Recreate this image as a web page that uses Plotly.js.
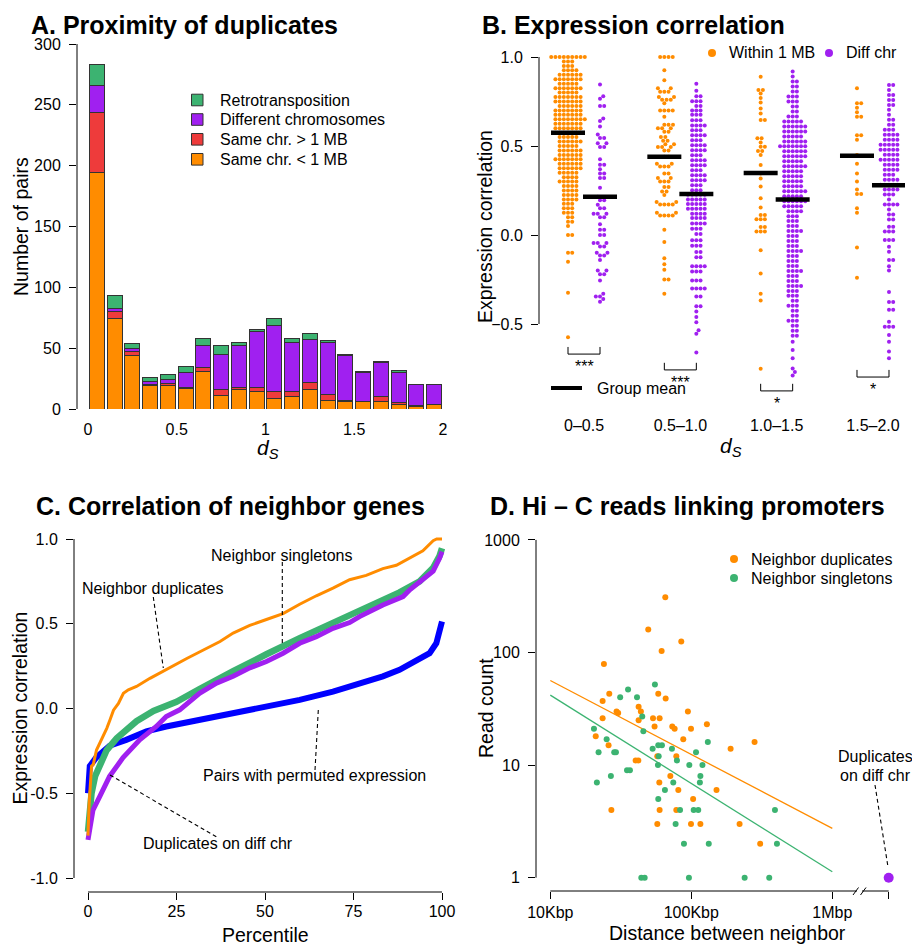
<!DOCTYPE html>
<html><head><meta charset="utf-8">
<script src="https://cdn.plot.ly/plotly-3.0.1.min.js"></script>
<style>html,body{margin:0;padding:0;background:#fff}#chart{width:912px;height:945px}</style>
</head><body><div id="chart"></div>
<script>
// ================= DATA =================
// Panel A: stacked histogram of d_S (bin centres, 0.1 wide)
const dsBins = [0.05,0.15,0.25,0.35,0.45,0.55,0.65,0.75,0.85,0.95,1.05,1.15,1.25,1.35,1.45,1.55,1.65,1.75,1.85,1.95];
const sameChrNear = [194,74,44,19,19,17,31,11,16,14,9,10,16,7,6,6,6,4,2,4];
const sameChrFar  = [50,6,3,1,2,1,3,5,2,4,5,4,6,5,1,0,4,1,1,0];
const diffChrom   = [22,3,3,3,3,12,18,29,34,46,55,41,35,43,37,24,28,25,17,16];
const retroTrans  = [17,10,4,3,4,5,6,7,3,1,5,3,5,1,1,1,1,2,0,0];
const seriesNamesA = ['Retrotransposition','Different chromosomes','Same chr. &gt; 1 MB','Same chr. &lt; 1 MB'];
const xTicksA = [0,0.5,1,1.5,2];
const xTickTextA = ['0','0.5','1','1.5','2'];
const yTicksA = [0,50,100,150,200,250,300];

// Panel B: expression correlation, [value, number of pairs at that value]
const dsGroups = ['0\u20130.5','0.5\u20131.0','1.0\u20131.5','1.5\u20132.0'];
const within_0_05 = [[1.0,9],[0.975,3],[0.95,3],[0.925,4],[0.9,6],[0.875,7],[0.85,5],[0.825,7],[0.8,5],[0.775,7],[0.75,7],[0.725,6],[0.7,7],[0.675,7],[0.65,8],[0.625,7],[0.6,7],[0.575,6],[0.55,5],[0.525,6],[0.5,5],[0.475,6],[0.45,6],[0.425,7],[0.4,6],[0.375,6],[0.35,5],[0.325,4],[0.3,5],[0.275,4],[0.25,4],[0.225,4],[0.2,4],[0.175,3],[0.15,3],[0.125,3],[0.1,2],[0.075,2],[0.05,1],[0.0,2],[-0.1,2],[-0.15,1],[-0.325,1],[-0.575,1]];
const diff_0_05 = [[0.845,1],[0.78,1],[0.765,1],[0.725,2],[0.655,1],[0.64,1],[0.61,1],[0.565,1],[0.545,2],[0.515,2],[0.495,2],[0.425,1],[0.395,2],[0.37,1],[0.345,2],[0.32,2],[0.265,1],[0.215,1],[0.195,2],[0.17,1],[0.15,2],[0.12,3],[0.1,2],[0.06,1],[0.03,2],[0.0,2],[-0.045,3],[-0.065,2],[-0.1,2],[-0.115,2],[-0.14,1],[-0.2,2],[-0.22,2],[-0.255,1],[-0.33,1],[-0.345,2],[-0.36,1],[-0.375,1]];
const within_05_10 = [[1.0,4],[0.925,1],[0.87,1],[0.825,2],[0.805,3],[0.775,2],[0.76,3],[0.74,1],[0.7,4],[0.665,1],[0.62,3],[0.6,3],[0.58,2],[0.55,2],[0.53,2],[0.51,2],[0.495,3],[0.475,2],[0.44,2],[0.4,2],[0.385,3],[0.345,2],[0.32,2],[0.3,3],[0.27,2],[0.245,2],[0.225,1],[0.185,2],[0.172,4],[0.125,2],[0.11,4],[0.03,1],[-0.04,1],[-0.13,1],[-0.165,1],[-0.195,1],[-0.25,2],[-0.33,1]];
const diff_05_10 = [[0.85,1],[0.81,1],[0.78,2],[0.752,3],[0.725,2],[0.7,3],[0.675,3],[0.645,3],[0.615,4],[0.588,3],[0.56,4],[0.532,3],[0.504,4],[0.476,4],[0.448,3],[0.42,4],[0.392,4],[0.364,3],[0.336,4],[0.308,4],[0.28,3],[0.252,3],[0.226,5],[0.2,5],[0.174,5],[0.148,5],[0.12,4],[0.095,4],[0.065,4],[0.035,3],[0.005,2],[-0.03,3],[-0.06,3],[-0.095,2],[-0.125,2],[-0.175,4],[-0.205,3],[-0.255,3],[-0.3,4],[-0.345,2],[-0.4,2],[-0.43,1],[-0.46,1],[-0.49,1],[-0.535,1],[-0.555,1],[-0.66,1]];
const within_10_15 = [[0.889,1],[0.815,2],[0.795,1],[0.77,1],[0.745,1],[0.711,1],[0.683,1],[0.646,2],[0.543,2],[0.52,1],[0.496,2],[0.472,2],[0.45,1],[0.393,1],[0.346,1],[0.318,1],[0.272,1],[0.206,1],[0.155,1],[0.112,2],[0.088,3],[0.045,2],[0.02,3],[-0.086,1],[-0.217,1],[-0.33,1],[-0.368,1],[-0.752,1]];
const diff_10_15 = [[0.918,1],[0.89,1],[0.862,2],[0.834,2],[0.806,2],[0.778,3],[0.75,3],[0.722,2],[0.694,2],[0.666,3],[0.638,5],[0.61,6],[0.582,6],[0.554,5],[0.526,6],[0.498,7],[0.47,6],[0.442,6],[0.414,5],[0.386,6],[0.358,5],[0.33,5],[0.302,5],[0.274,5],[0.246,6],[0.218,5],[0.19,6],[0.162,5],[0.134,4],[0.106,3],[0.078,3],[0.05,3],[0.022,4],[-0.006,3],[-0.034,3],[-0.062,3],[-0.09,4],[-0.118,3],[-0.146,3],[-0.174,3],[-0.202,4],[-0.23,3],[-0.258,3],[-0.286,4],[-0.314,3],[-0.342,3],[-0.37,2],[-0.398,3],[-0.426,2],[-0.454,2],[-0.482,3],[-0.51,2],[-0.538,2],[-0.566,2],[-0.6,1],[-0.646,1],[-0.693,1],[-0.75,1],[-0.77,1],[-0.79,1]];
const within_15_20 = [[0.825,1],[0.74,2],[0.715,1],[0.69,1],[0.665,2],[0.56,2],[0.535,1],[0.45,1],[0.4,1],[0.345,1],[0.3,1],[0.255,1],[0.23,2],[0.15,1],[0.125,1],[-0.07,1],[-0.24,1]];
const diff_15_20 = [[0.843,2],[0.815,1],[0.787,2],[0.759,2],[0.731,2],[0.703,1],[0.675,1],[0.647,2],[0.619,2],[0.591,3],[0.563,4],[0.535,4],[0.507,5],[0.479,5],[0.451,4],[0.423,5],[0.395,4],[0.367,4],[0.339,3],[0.311,4],[0.283,5],[0.255,4],[0.227,3],[0.199,1],[0.171,4],[0.143,1],[0.115,2],[0.087,2],[0.047,2],[0.019,3],[-0.028,3],[-0.066,1],[-0.094,1],[-0.141,2],[-0.175,1],[-0.2,1],[-0.32,1],[-0.376,2],[-0.42,2],[-0.487,1],[-0.515,3],[-0.562,1],[-0.6,1],[-0.655,1],[-0.693,1]];
const withinMeans = [0.575,0.44,0.348,0.445];
const diffMeans   = [0.215,0.23,0.20,0.28];
const sigStars    = ['***','***','*','*'];
const yTicksB = [-0.5,0,0.5,1];
const yTickTextB = ['\u22120.5','0.0','0.5','1.0'];

// Panel C: sorted correlation curves (percentile, correlation)
const pctDup = [0,0.3,1.0,1.5,2.4,3.4,4.3,5.3,6.2,7.2,8.6,10,11.4,13.7,17.5,20.3,23.2,27.9,32.6,37.3,41,45.7,50.4,55.1,59.8,64.5,69.2,73.9,78.6,83.3,87.1,90.9,94.6,97.5,98.5,100];
const corDup = [-0.75,-0.57,-0.34,-0.33,-0.245,-0.2,-0.17,-0.117,-0.068,-0.01,0.03,0.09,0.11,0.13,0.178,0.21,0.245,0.295,0.345,0.395,0.445,0.49,0.525,0.56,0.615,0.665,0.71,0.76,0.785,0.825,0.845,0.89,0.93,0.99,1.0,1.0];
const pctSing = [0,0.4,1.0,2.0,3.4,5.3,8.1,10.9,13.7,18.5,25,31.5,36.3,41,50.4,55.1,59.8,69.2,78.6,88,93.7,97.5,99.3,100];
const corSing = [-0.727,-0.62,-0.5,-0.4,-0.324,-0.245,-0.176,-0.122,-0.075,-0.015,0.04,0.115,0.17,0.22,0.32,0.37,0.415,0.505,0.59,0.685,0.75,0.83,0.9,0.945];
const pctDiffChr = [0,0.5,1.4,3.3,6.1,9.9,14.6,19.3,22.1,25.9,31.5,36.3,41,45.7,50.4,55.1,59.8,64.5,69.2,73.9,76.7,83.3,89,90.9,94.6,97.5,99.3,100];
const corDiffChr = [-0.775,-0.695,-0.6,-0.52,-0.4,-0.29,-0.185,-0.106,-0.047,-0.008,0.09,0.15,0.19,0.24,0.277,0.326,0.385,0.424,0.473,0.507,0.542,0.611,0.66,0.7,0.76,0.81,0.886,0.925];
const pctPerm = [0,0.1,0.5,2.3,6.1,10.8,16.5,22.1,31.5,41,50.4,59.8,69.2,78.6,83.3,88,92.7,96.5,98.4,99.3,100];
const corPerm = [-0.5,-0.4,-0.34,-0.29,-0.22,-0.185,-0.135,-0.106,-0.067,-0.028,0.012,0.051,0.1,0.159,0.19,0.228,0.277,0.326,0.385,0.464,0.513];
const xTicksC = [0,25,50,75,100];
const yTicksC = [-1,-0.5,0,0.5,1];
const yTickTextC = ['-1.0','-0.5','0.0','0.5','1.0'];

// Panel D: Hi-C read counts vs distance (bp)
const dupDist  = [65400,49500,84900,61600,24000,26200,23500,58300,65800,42300,43900,29500,30300,94600,23500,53500,59600,42300,54900,73300,76200,99500,129000,21000,87700,25900,281000,190000,57400,78300,40300,42100,71000,59300,80900,151000,103000,27100,59600,78300,57400,99500,116000,220000,308000];
const dupReads = [310,160,125,103,79,43,37,43,39,33,30,30,29,30,26,26,26,25,22,22,21,21,23,18,17,15,16,14,12,12,11,11,8,7,6,6,5,4,4,4,3,3,3,3,2];
const singDist  = [55200,35600,31300,41200,44900,45700,20400,25100,22000,28400,29200,53200,58300,61900,72900,108000,131000,58700,79100,58000,96800,120000,35000,36700,26900,116000,21400,74500,115000,65000,58300,83200,104000,112000,392000,77400,88700,133000,405000,44200,46700,96200,239000,357000];
const singReads = [52,47,40,40,27,20,21,17,13,13,13,14,15,15,14,13,16,12,11,10,10,10,9,9,8,8,7,7,7,6,5,4,4,4,4,3,2,2,2,1,1,1,1,1];
const fitDist = [1e4, 1e6];
const dupFit  = [56.4, 2.74];
const singFit = [41.8, 1.13];
const diffChrReads = [1];
const xTicksD = [1e4,1e5,1e6];
const xTickTextD = ['10Kbp','100Kbp','1Mbp'];
const yTicksD = [1,10,100,1000];

// ================= STYLE / LAYOUT =================
const FONT = 'Liberation Sans, Arial, Helvetica, sans-serif';
const W = 912, H = 945;
const px = x => x / W, py = y => 1 - y / H;
const ORANGE = '#FF8C00', RED = '#EE3B3B', PURPLE = '#A020F0', GREEN = '#3CB371', BLUE = '#0000FF';

const data = [];
// ---- A: stacked bars
[[sameChrNear, ORANGE],[sameChrFar, RED],[diffChrom, PURPLE],[retroTrans, GREEN]].forEach(([vals,col]) => {
  data.push({type:'bar', x:dsBins, y:vals, width:0.084, xaxis:'x', yaxis:'y',
    marker:{color:col, line:{color:'#333', width:1}}, hoverinfo:'skip'});
});

// ---- B: beeswarm
const B_PX_X = 96.33, B_PX_Y = 178, DOT = 4.2;
function swarm(rows) {
  const vals = [];
  rows.forEach(([v,n]) => { for (let i=0;i<n;i++) vals.push(v); });
  const order = vals.map((v,i)=>i).sort((a,b)=>vals[a]-vals[b]);
  const placed = [], offs = new Array(vals.length);
  for (const i of order) {
    const y = vals[i]*B_PX_Y;
    const near = placed.filter(p => Math.abs(p.y-y) < DOT);
    const cands = [0];
    near.forEach(p => { const dx = Math.sqrt(DOT*DOT-(p.y-y)*(p.y-y)); cands.push(p.x+dx, p.x-dx); });
    cands.sort((a,b)=>Math.abs(a)-Math.abs(b));
    let chosen = 0;
    for (const c of cands) {
      if (near.every(p => (p.x-c)*(p.x-c)+(p.y-y)*(p.y-y) >= DOT*DOT-1e-6)) { chosen = c; break; }
    }
    placed.push({x:chosen, y}); offs[i] = chosen;
  }
  return {vals, offs};
}
const withinGroups = [within_0_05, within_05_10, within_10_15, within_15_20];
const diffGroups = [diff_0_05, diff_05_10, diff_10_15, diff_15_20];
const SIDE = 16/B_PX_X;
function swarmTrace(groups, sign, col) {
  const xs=[], ys=[];
  groups.forEach((rows,g) => {
    const s = swarm(rows);
    s.vals.forEach((v,i) => { xs.push(g+1+sign*SIDE + s.offs[i]/B_PX_X); ys.push(v); });
  });
  return {type:'scatter', mode:'markers', x:xs, y:ys, xaxis:'x2', yaxis:'y2',
    marker:{size:4, color:col, line:{width:0}}, hoverinfo:'skip', cliponaxis:false};
}
data.push(swarmTrace(withinGroups, -1, ORANGE));
data.push(swarmTrace(diffGroups, 1, PURPLE));
// group mean bars
const HALF = 17/B_PX_X;
const mx=[], my=[];
withinMeans.forEach((m,g)=>{ mx.push(g+1-SIDE-HALF, g+1-SIDE+HALF, null); my.push(m,m,null); });
diffMeans.forEach((m,g)=>{ mx.push(g+1+SIDE-HALF, g+1+SIDE+HALF, null); my.push(m,m,null); });
data.push({type:'scatter', mode:'lines', x:mx, y:my, xaxis:'x2', yaxis:'y2', line:{color:'#000', width:4.5}, hoverinfo:'skip'});

// ---- C: curves
data.push({type:'scatter', mode:'lines', x:pctPerm, y:corPerm, xaxis:'x3', yaxis:'y3', line:{color:BLUE, width:6}, hoverinfo:'skip'});
data.push({type:'scatter', mode:'lines', x:pctSing, y:corSing, xaxis:'x3', yaxis:'y3', line:{color:GREEN, width:6.5}, hoverinfo:'skip'});
data.push({type:'scatter', mode:'lines', x:pctDiffChr, y:corDiffChr, xaxis:'x3', yaxis:'y3', line:{color:PURPLE, width:5}, hoverinfo:'skip'});
data.push({type:'scatter', mode:'lines', x:pctDup, y:corDup, xaxis:'x3', yaxis:'y3', line:{color:ORANGE, width:3}, hoverinfo:'skip'});

// ---- D: scatter
const D_XR = [3.8986, 6.5156];
const diffChrPos = Math.pow(10, 6.40); // position beyond the axis break
data.push({type:'scatter', mode:'lines', x:fitDist, y:dupFit, xaxis:'x4', yaxis:'y4', line:{color:ORANGE, width:1.3}, hoverinfo:'skip'});
data.push({type:'scatter', mode:'lines', x:fitDist, y:singFit, xaxis:'x4', yaxis:'y4', line:{color:GREEN, width:1.3}, hoverinfo:'skip'});
data.push({type:'scatter', mode:'markers', x:dupDist, y:dupReads, xaxis:'x4', yaxis:'y4', marker:{size:6, color:ORANGE}, hoverinfo:'skip', cliponaxis:false});
data.push({type:'scatter', mode:'markers', x:singDist, y:singReads, xaxis:'x4', yaxis:'y4', marker:{size:6, color:GREEN}, hoverinfo:'skip', cliponaxis:false});
data.push({type:'scatter', mode:'markers', x:[diffChrPos], y:diffChrReads, xaxis:'x4', yaxis:'y4', marker:{size:10, color:PURPLE}, hoverinfo:'skip', cliponaxis:false});

// ---- axes
const tf = {family:FONT, size:16, color:'#000'};
const base = {showgrid:false, zeroline:false, showline:false, tickfont:tf, tickcolor:'#000', tickwidth:1, fixedrange:true};
const layout = {
  width:W, height:H, margin:{l:0,r:0,t:0,b:0}, paper_bgcolor:'#fff', plot_bgcolor:'rgba(0,0,0,0)',
  showlegend:false, barmode:'stack', font:{family:FONT, color:'#000'},
  xaxis: Object.assign({}, base, {domain:[px(77),px(455)], range:[-0.062,2.068], tickmode:'array', tickvals:xTicksA, ticktext:xTickTextA, ticks:'', ticklabelstandoff:9, anchor:'y'}),
  yaxis: Object.assign({}, base, {domain:[py(409),py(44)], range:[0,300], tickmode:'array', tickvals:yTicksA, ticks:'outside', ticklen:7, ticklabelstandoff:5, anchor:'x'}),
  xaxis2: Object.assign({}, base, {domain:[px(539),px(905)], range:[0.5327,4.3323], tickmode:'array', tickvals:[1,2,3,4], ticktext:dsGroups, ticks:'', ticklabelstandoff:14, anchor:'y2'}),
  yaxis2: Object.assign({}, base, {domain:[py(400),py(48)], range:[-0.927,1.0506], tickmode:'array', tickvals:yTicksB, ticktext:yTickTextB, ticks:'outside', ticklen:7, ticklabelstandoff:5, anchor:'x2'}),
  xaxis3: Object.assign({}, base, {domain:[px(74),px(450)], range:[-3.955,102.26], tickmode:'array', tickvals:xTicksC, ticks:'outside', ticklen:7, ticklabelstandoff:-2, anchor:'y3'}),
  yaxis3: Object.assign({}, base, {domain:[py(892),py(530)], range:[-1.0826,1.0531], tickmode:'array', tickvals:yTicksC, ticktext:yTickTextC, ticks:'outside', ticklen:7, ticklabelstandoff:5, anchor:'x3'}),
  xaxis4: Object.assign({}, base, {type:'log', domain:[px(536),px(905)], range:D_XR, tickmode:'array', tickvals:xTicksD.concat([diffChrPos]), ticktext:xTickTextD.concat([' ']), ticks:'outside', ticklen:7, ticklabelstandoff:0, anchor:'y4'}),
  yaxis4: Object.assign({}, base, {type:'log', domain:[py(891),py(530)], range:[-0.1181,3.0879], tickmode:'array', tickvals:yTicksD, ticktext:yTicksD.map(String), ticks:'outside', ticklen:7, ticklabelstandoff:5, anchor:'x4'}),
  shapes:[], annotations:[]
};

const S = layout.shapes, A = layout.annotations;
const pline = (x0,y0,x1,y1,extra) => S.push(Object.assign({type:'line', xref:'paper', yref:'paper', x0:px(x0), y0:py(y0), x1:px(x1), y1:py(y1), line:{color:'#000', width:1}}, extra||{}));
const txt = (t,x,y,o) => A.push(Object.assign({text:t, x:px(x), y:py(y), xref:'paper', yref:'paper', showarrow:false, xanchor:'center', yanchor:'middle', font:{family:FONT, size:16, color:'#000'}}, o||{}));

// axis lines (R style, spanning the tick range)
pline(77,409,77,44);
S.push({type:'line', xref:'paper', yref:'y2', x0:px(539), x1:px(539), y0:-0.5, y1:1.0, line:{color:'#000', width:1}});
S.push({type:'line', xref:'paper', yref:'y3', x0:px(74), x1:px(74), y0:-1, y1:1, line:{color:'#000', width:1}});
S.push({type:'line', xref:'x3', yref:'paper', x0:0, x1:100, y0:py(892), y1:py(892), line:{color:'#000', width:1}});
// panel D axis lines
const dxPix = lg => 536 + (lg - D_XR[0])/(D_XR[1]-D_XR[0])*369;
pline(536, 891 - (0 + 0.1181)/3.206*361, 536, 891 - (3 + 0.1181)/3.206*361);
pline(dxPix(4), 891, 857, 891);
pline(862, 891, dxPix(6.40), 891);
pline(853, 895, 858.5, 887.5);
pline(860.5, 895, 866, 887.5);

// panel B brackets
const bracketY = [-0.669,-0.758,-0.876,-0.798];
bracketY.forEach((b,g) => {
  const x0 = g+1-SIDE, x1 = g+1+SIDE, t = 0.04;
  S.push({type:'path', xref:'x2', yref:'y2', path:`M ${x0},${b+t} L ${x0},${b} L ${x1},${b} L ${x1},${b+t}`, line:{color:'#000', width:1}});
  A.push({text:sigStars[g], x:g+1, y:b, xref:'x2', yref:'y2', showarrow:false, xanchor:'center', yanchor:'top', yshift:-2, font:{family:FONT, size:16, color:'#000'}});
});

// titles
const tOpt = {xanchor:'left', font:{family:FONT, size:25, color:'#000'}};
txt('<b>A. Proximity of duplicates</b>', 29, 25, tOpt);
txt('<b>B. Expression correlation</b>', 480, 25, tOpt);
txt('<b>C. Correlation of neighbor genes</b>', 34, 506, tOpt);
txt('<b>D. Hi \u2013 C reads linking promoters</b>', 488, 506, tOpt);
// axis titles
const aOpt = {font:{family:FONT, size:19.5, color:'#000'}};
const rOpt = {textangle:-90, font:{family:FONT, size:19.5, color:'#000'}};
txt('Number of pairs', 21, 227, rOpt);
txt('<i>d</i><sub><i>S</i></sub>', 268, 449, {font:{family:FONT, size:21, color:'#000'}});
txt('Expression correlation', 485, 227, rOpt);
txt('<i>d</i><sub><i>S</i></sub>', 731, 447, {font:{family:FONT, size:21, color:'#000'}});
txt('Expression correlation', 19.5, 708, rOpt);
txt('Percentile', 265.5, 935, aOpt);
txt('Read count', 486, 708, rOpt);
txt('Distance between neighbor', 727, 933, aOpt);

// panel A legend
const legColsA = [GREEN, PURPLE, RED, ORANGE];
const legYA = [100, 119.5, 139.3, 159.3];
seriesNamesA.forEach((n,i) => {
  S.push({type:'rect', xref:'paper', yref:'paper', x0:px(191.5), x1:px(203), y0:py(legYA[i]+5.8), y1:py(legYA[i]-5.8), fillcolor:legColsA[i], line:{color:'#333', width:1}});
  txt(n, 218, legYA[i], {xanchor:'left'});
});
// panel B legends
const dot = (x,y,r,col) => S.push({type:'circle', xref:'paper', yref:'paper', x0:px(x-r), x1:px(x+r), y0:py(y+r), y1:py(y-r), fillcolor:col, line:{width:0}});
dot(712,53,4,ORANGE); txt('Within 1 MB', 727, 53, {xanchor:'left'});
dot(829,53,4,PURPLE); txt('Diff chr', 844, 53, {xanchor:'left'});
pline(551,388,582,388,{line:{color:'#000', width:4}});
txt('Group mean', 595, 389, {xanchor:'left'});
// panel C labels
const dashL = {line:{color:'#000', width:1.1, dash:'4px,3px'}};
txt('Neighbor singletons', 281.7, 555);
pline(282.3,562,282.3,643,dashL);
txt('Neighbor duplicates', 152.8, 588.3);
pline(153.3,597,163.3,668,dashL);
txt('Pairs with permuted expression', 314, 775);
pline(318.3,710,315,770,dashL);
txt('Duplicates on diff chr', 218, 843.3);
pline(110,775,218.3,838,dashL);
// panel D legend & label
dot(734,559,4,ORANGE); txt('Neighbor duplicates', 749, 559, {xanchor:'left'});
dot(734,578,4,GREEN); txt('Neighbor singletons', 749, 578, {xanchor:'left'});
txt('Duplicates', 875, 756);
txt('on diff chr', 875, 775);
pline(875,785,888,867,dashL);

Plotly.newPlot('chart', data, layout, {displayModeBar:false, staticPlot:true});
</script>
</body></html>
